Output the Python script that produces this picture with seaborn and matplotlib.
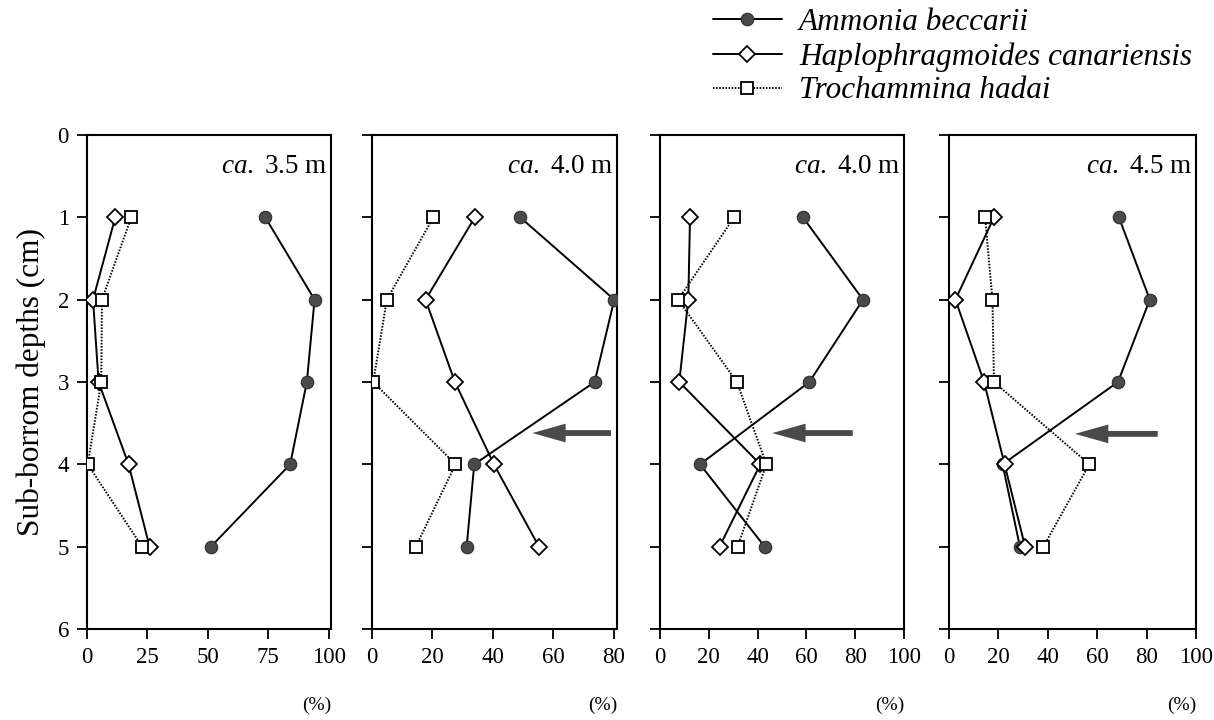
import matplotlib
matplotlib.use("Agg")
import matplotlib.pyplot as plt
import seaborn as sns
from matplotlib.font_manager import FontProperties

# ---------------- data ----------------
depths = [1, 2, 3, 4, 5]
site_depths = ["3.5 m", "4.0 m", "4.0 m", "4.5 m"]
species = ["Ammonia beccarii", "Haplophragmoides canariensis", "Trochammina hadai"]

ammonia = [
    [73.8, 94.2, 91.0, 84.1, 51.3],
    [49.0, 80.1, 73.6, 33.8, 31.3],
    [58.6, 83.2, 61.2, 16.4, 42.9],
    [68.8, 81.3, 68.4, 21.7, 28.7],
]
haplo = [
    [11.7, 2.5, 4.8, 17.2, 25.9],
    [34.0, 17.7, 27.4, 40.3, 55.2],
    [12.3, 11.6, 7.9, 41.1, 24.4],
    [18.2, 2.6, 14.2, 22.5, 30.8],
]
trocha = [
    [18.3, 6.2, 5.9, 0.3, 22.8],
    [20.3, 4.9, 0.4, 27.6, 14.5],
    [30.4, 7.4, 31.5, 43.6, 31.8],
    [14.6, 17.6, 18.2, 56.8, 38.2],
]
x_ticks = [
    [0, 25, 50, 75, 100],
    [0, 20, 40, 60, 80],
    [0, 20, 40, 60, 80, 100],
    [0, 20, 40, 60, 80, 100],
]
y_ticks = [0, 1, 2, 3, 4, 5, 6]
# arrows (panels 2-4): depth, tail %, tip %
arrow_panels = [1, 2, 3]
arrow_depth = [3.62, 3.62, 3.63]
arrow_tail = [79, 79, 84.5]
arrow_tip = [53, 46, 51]

# ---------------- style ----------------
sns.set_theme(style="ticks")
plt.rcParams["font.family"] = ["Liberation Serif", "DejaVu Serif"]
plt.rcParams["mathtext.fontset"] = "custom"
plt.rcParams["mathtext.rm"] = "Liberation Serif"
plt.rcParams["mathtext.it"] = "Liberation Serif:italic"
plt.rcParams["text.color"] = "black"
plt.rcParams["axes.labelcolor"] = "black"

W, H = 1214, 720
fig = plt.figure(figsize=(W / 100, H / 100), dpi=100)
fig.patch.set_facecolor("white")

# axes pixel boxes (left, right), top/bottom
boxes = [(87, 331), (372, 617), (660, 904), (949, 1196)]
xlims = [(0, 101), (0, 81), (0, 100), (0, 100)]
top_px, bot_px = 135, 629

axes = []
for (l, r) in boxes:
    ax = fig.add_axes([l / W, (H - bot_px) / H, (r - l) / W, (bot_px - top_px) / H])
    axes.append(ax)

line_c = "black"
for i, ax in enumerate(axes):
    sns.lineplot(x=ammonia[i], y=depths, ax=ax, sort=False, estimator=None,
                 color=line_c, lw=1.4, marker="o", markersize=9,
                 markerfacecolor="#4a4a4a", markeredgecolor="#2e2e2e",
                 markeredgewidth=0.8, zorder=3)
    sns.lineplot(x=haplo[i], y=depths, ax=ax, sort=False, estimator=None,
                 color=line_c, lw=1.4, marker="D", markersize=8,
                 markerfacecolor="white", markeredgecolor="black",
                 markeredgewidth=1.3, zorder=4)
    sns.lineplot(x=trocha[i], y=depths, ax=ax, sort=False, estimator=None,
                 color=line_c, lw=1.4, linestyle=(0, (0.8, 0.8)), marker="s",
                 markersize=8.3, markerfacecolor="white", markeredgecolor="black",
                 markeredgewidth=1.3, zorder=5)

    ax.set_xlim(*xlims[i])
    ax.set_ylim(6, 0)
    ax.set_xticks(x_ticks[i])
    ax.set_yticks(y_ticks)
    ax.set_xlabel("")
    ax.set_ylabel("")
    for s in ax.spines.values():
        s.set_visible(True)
        s.set_linewidth(1.5)
        s.set_color("black")
    ax.tick_params(axis="both", direction="out", length=7, width=1.3,
                   colors="black", labelsize=16.5, pad=6)
    if i > 0:
        ax.tick_params(axis="y", labelleft=False)
    ax.text(0.985, 0.937, r"$\mathit{ca.}$" + " " + site_depths[i], transform=ax.transAxes,
            ha="right", va="center", fontsize=19.5, color="black")
    ax.text(1.0, -0.154, "(%)", transform=ax.transAxes, ha="right", va="center",
            fontsize=14, color="black")
    ax.grid(False)

for k, p in enumerate(arrow_panels):
    axes[p].annotate("", xy=(arrow_tip[k], arrow_depth[k]),
                     xytext=(arrow_tail[k], arrow_depth[k]),
                     arrowprops=dict(arrowstyle="simple,head_length=2.4,head_width=1.35,tail_width=0.42",
                                     mutation_scale=10, color="#4a4a4a", lw=0,
                                     shrinkA=0, shrinkB=0))

axes[0].set_ylabel("Sub-borrom depths (cm)", fontsize=22.5, labelpad=8, color="black")

handles = axes[0].lines[:3]
leg = fig.legend(handles, species, loc="upper left", bbox_to_anchor=(713 / W, 1 - 8 / H),
                 frameon=False, prop=FontProperties(family="Liberation Serif", style="italic", size=22.5),
                 handlelength=2.2, handletextpad=0.55, labelspacing=0.16,
                 borderpad=0, borderaxespad=0, labelcolor="black")

fig.savefig("out.png", dpi=100, facecolor="white")
